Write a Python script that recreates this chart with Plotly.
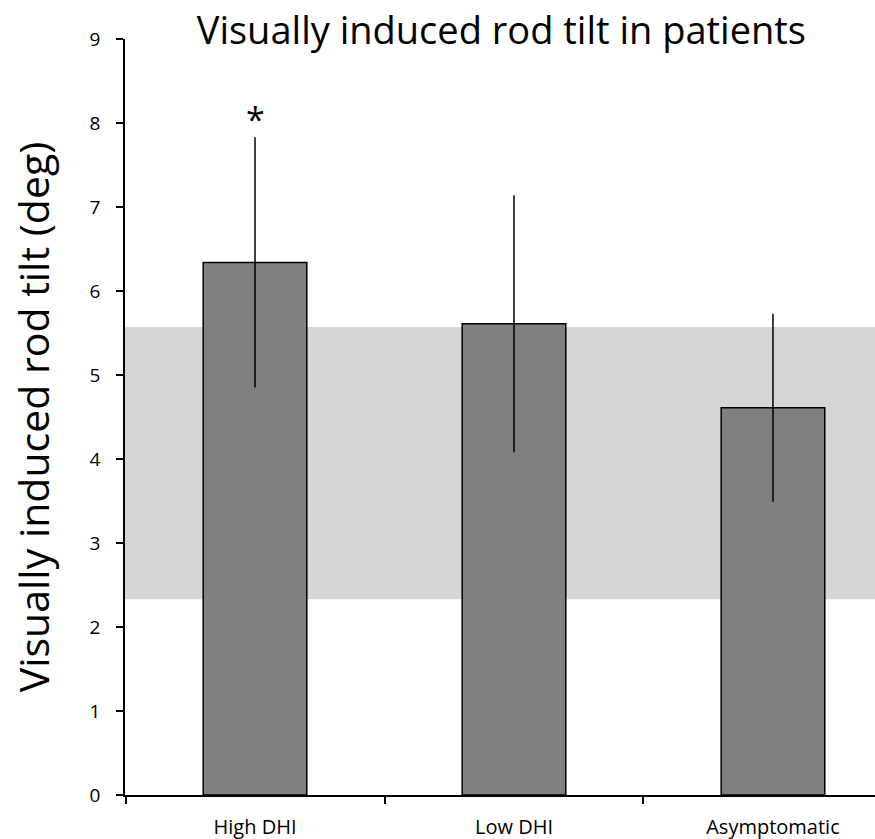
import plotly.graph_objects as go

categories = ["High DHI", "Low DHI", "Asymptomatic"]
means = [6.34, 5.61, 4.61]
errors = [1.49, 1.53, 1.12]
band_low = 2.33
band_high = 5.57
sig_marks = ["*", "", ""]
sig_y = [8.05, None, None]

FONT = "Open Sans"

fig = go.Figure()
fig.add_trace(go.Bar(
    x=categories, y=means,
    width=0.4,
    marker=dict(color="#808080", line=dict(color="black", width=1.5)),
    error_y=dict(type="data", array=errors, visible=True, color="black",
                 thickness=1.5, width=0),
    showlegend=False,
))

fig.add_shape(type="rect", xref="paper", yref="y", x0=0, x1=1,
              y0=band_low, y1=band_high, fillcolor="#d6d6d6",
              line=dict(width=0), layer="below")

for c, m, yy in zip(categories, sig_marks, sig_y):
    if m:
        fig.add_annotation(x=c, y=yy, text=m, showarrow=False,
                           font=dict(family=FONT, size=34, color="black"))

fig.update_layout(
    width=875, height=839,
    paper_bgcolor="white", plot_bgcolor="rgba(0,0,0,0)",
    margin=dict(l=125, r=0, t=39, b=44),
    title=dict(text="Visually induced rod tilt in patients",
               x=0.573, xanchor="center", y=0.964, yanchor="middle",
               font=dict(family=FONT, size=38, color="black")),
    font=dict(family=FONT, color="black"),
    xaxis=dict(
        range=[-0.502, 2.394],
        automargin=False,
        showline=True, linecolor="black", linewidth=1.5,
        ticks="outside", tickson="boundaries", ticklen=7, tickwidth=1.5,
        tickcolor="black", showgrid=False,
        ticklabelstandoff=13,
        tickfont=dict(family=FONT, size=20, color="black"),
    ),
    yaxis=dict(
        range=[0, 9], dtick=1,
        automargin=False,
        showline=True, linecolor="black", linewidth=1.5,
        ticks="outside", ticklen=7, tickwidth=1.5, tickcolor="black",
        showgrid=False, zeroline=False,
        ticklabelstandoff=12,
        tickfont=dict(family=FONT, size=19, color="black"),
        title=dict(text="Visually induced rod tilt (deg)",
                   font=dict(family=FONT, size=41, color="black"),
                   standoff=27),
    ),
)

fig.write_html("out.html",
               config={"displayModeBar": False},
               post_script="document.body.style.margin='0';document.body.style.overflow='hidden';")
